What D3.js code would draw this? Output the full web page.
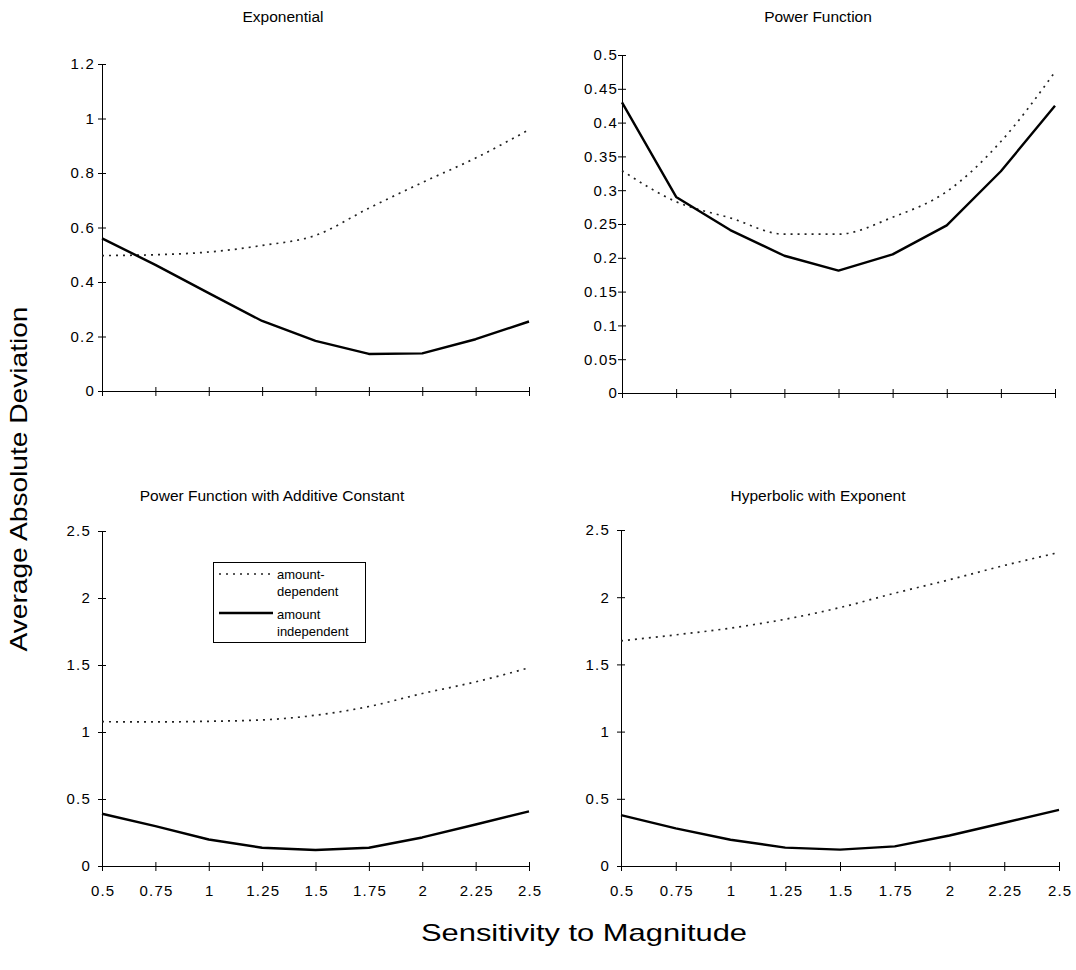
<!DOCTYPE html>
<html><head>
<meta charset="utf-8">
<style>
body { margin: 0; background: #fff; }
.axis text { font-family: "Liberation Sans", Arial, sans-serif; font-size: 15px; letter-spacing: 1.2px; fill: #000; }
.axis line, .axis path { fill: none; stroke: #000; stroke-width: 1; }
.title { font: 15.5px "Liberation Sans Narrow", "Liberation Sans", Arial, sans-serif; }
.big { font: 24px "Liberation Sans", Arial, sans-serif; }
.legend text { font: 13px "Liberation Sans", Arial, sans-serif; }
</style>
</head>
<body>
<script src="https://d3js.org/d3.v7.min.js"></script>
<script>

var sensitivity = [0.5, 0.75, 1, 1.25, 1.5, 1.75, 2, 2.25, 2.5];
var xTickLabels = ["0.5", "0.75", "1", "1.25", "1.5", "1.75", "2", "2.25", "2.5"];

var titles = ["Exponential", "Power Function", "Power Function with Additive Constant", "Hyperbolic with Exponent"];

// amount-dependent (dotted) and amount independent (solid), per panel
var expDep   = [0.497, 0.500, 0.510, 0.534, 0.571, 0.671, 0.765, 0.855, 0.959];
var expIndep = [0.560, 0.463, 0.359, 0.257, 0.184, 0.136, 0.138, 0.190, 0.255];
var powDep   = [0.329, 0.283, 0.259, 0.235, 0.235, 0.260, 0.298, 0.372, 0.475];
var powIndep = [0.430, 0.290, 0.241, 0.203, 0.181, 0.205, 0.248, 0.328, 0.425];
var pacDep   = [1.077, 1.075, 1.080, 1.090, 1.125, 1.190, 1.287, 1.374, 1.479];
var pacIndep = [0.390, 0.297, 0.198, 0.136, 0.119, 0.136, 0.213, 0.310, 0.408];
var hypDep   = [1.675, 1.720, 1.770, 1.836, 1.923, 2.030, 2.130, 2.236, 2.333];
var hypIndep = [0.378, 0.280, 0.195, 0.137, 0.122, 0.146, 0.227, 0.322, 0.417];

var yTicksExp = [0, 0.2, 0.4, 0.6, 0.8, 1, 1.2];
var yTicksPow = [0, 0.05, 0.1, 0.15, 0.2, 0.25, 0.3, 0.35, 0.4, 0.45, 0.5];
var yTicksBig = [0, 0.5, 1, 1.5, 2, 2.5];

var legendLabels = [["amount-", "dependent"], ["amount", "independent"]];

var panels = [
  {title: titles[0], dep: expDep, indep: expIndep, ticks: yTicksExp, box: [102, 529, 64, 391], pad: 7, xLabels: false},
  {title: titles[1], dep: powDep, indep: powIndep, ticks: yTicksPow, box: [622, 1055, 55, 393], pad: 4, xLabels: false},
  {title: titles[2], dep: pacDep, indep: pacIndep, ticks: yTicksBig, box: [102, 529, 531, 866], pad: 11, xLabels: true},
  {title: titles[3], dep: hypDep, indep: hypIndep, ticks: yTicksBig, box: [621, 1059, 530, 866], pad: 11, xLabels: true}
];
var titlePos = [[283, 22], [818, 22], [272, 501], [818, 501]];

var svg = d3.select("body").append("svg")
    .attr("width", 1076)
    .attr("height", 970);

panels.forEach(function(p, i) {
  var x = d3.scaleLinear().domain([0.5, 2.5]).range([p.box[0], p.box[1]]);
  var y = d3.scaleLinear().domain([0, d3.max(p.ticks)]).range([p.box[3], p.box[2]]);

  var yAxis = d3.axisLeft(y)
      .tickValues(p.ticks)
      .tickSizeOuter(0)
      .tickFormat(function(d) { return String(+d.toFixed(2)); });

  var gy = svg.append("g")
      .attr("class", "axis")
      .attr("transform", "translate(" + p.box[0] + ",0)")
      .call(yAxis);
  // cross ticks
  gy.selectAll(".tick line").attr("x1", -4).attr("x2", 4);
  gy.selectAll(".tick text").attr("x", -p.pad);

  var xAxis = d3.axisBottom(x)
      .tickValues(sensitivity)
      .tickSizeOuter(0)
      .tickFormat(function(d, j) { return p.xLabels ? xTickLabels[j] : ""; });

  var gx = svg.append("g")
      .attr("class", "axis")
      .attr("transform", "translate(0," + p.box[3] + ")")
      .call(xAxis);
  gx.selectAll(".tick line").attr("y1", -4).attr("y2", 5);
  gx.selectAll(".tick text").attr("y", 19).attr("dx", "0.6px");

  svg.append("text")
      .attr("class", "title")
      .attr("x", titlePos[i][0])
      .attr("y", titlePos[i][1])
      .attr("text-anchor", "middle")
      .text(p.title);

  var dotted = d3.line()
      .x(function(d, j) { return x(sensitivity[j]); })
      .y(function(d) { return y(d); })
      .curve(d3.curveMonotoneX);
  var solid = d3.line()
      .x(function(d, j) { return x(sensitivity[j]); })
      .y(function(d) { return y(d); });

  svg.append("path")
      .attr("d", dotted(p.dep))
      .attr("fill", "none")
      .attr("stroke", "#222")
      .attr("stroke-width", 1.7)
      .attr("stroke-dasharray", "2,5");

  svg.append("path")
      .attr("d", solid(p.indep))
      .attr("fill", "none")
      .attr("stroke", "#000")
      .attr("stroke-width", 2.4)
      .attr("stroke-linejoin", "round");
});

// legend in the third panel
var legend = svg.append("g").attr("class", "legend");
legend.append("rect")
    .attr("x", 213.5).attr("y", 562.5)
    .attr("width", 152).attr("height", 80)
    .attr("fill", "#fff").attr("stroke", "#000").attr("stroke-width", 1);
legend.append("line")
    .attr("x1", 219).attr("x2", 273).attr("y1", 574).attr("y2", 574)
    .attr("stroke", "#222").attr("stroke-width", 1.7).attr("stroke-dasharray", "2,5");
legend.append("line")
    .attr("x1", 219).attr("x2", 273).attr("y1", 613).attr("y2", 613)
    .attr("stroke", "#000").attr("stroke-width", 2.4);
legendLabels.forEach(function(lbl, i) {
  lbl.forEach(function(t, k) {
    legend.append("text")
        .attr("x", 277)
        .attr("y", 579 + i * 39.5 + k * 17)
        .text(t);
  });
});

svg.append("text")
    .attr("class", "big")
    .attr("transform", "translate(27,479) rotate(-90)")
    .attr("text-anchor", "middle")
    .attr("textLength", 345)
    .attr("lengthAdjust", "spacingAndGlyphs")
    .text("Average Absolute Deviation");

svg.append("text")
    .attr("class", "big")
    .attr("x", 584)
    .attr("y", 941)
    .attr("text-anchor", "middle")
    .attr("textLength", 326)
    .attr("lengthAdjust", "spacingAndGlyphs")
    .text("Sensitivity to Magnitude");

</script>
</body></html>
